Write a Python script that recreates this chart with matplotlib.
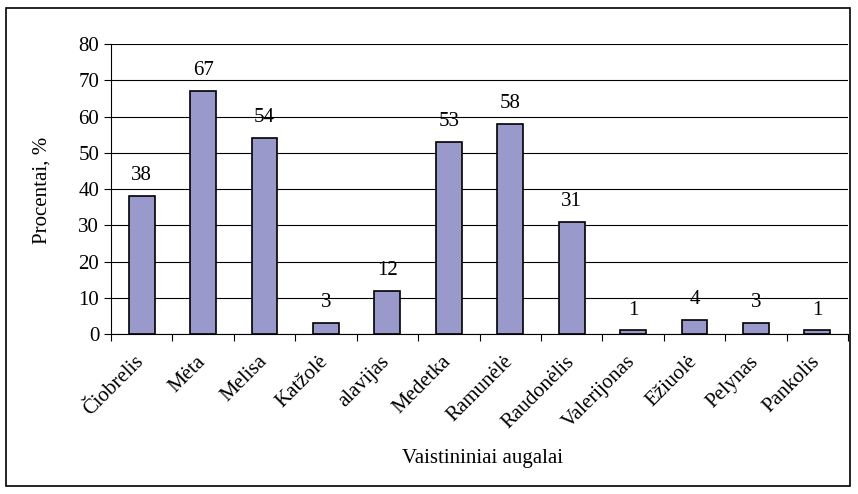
import matplotlib
matplotlib.use("Agg")
import matplotlib.pyplot as plt
import matplotlib.transforms as mtransforms
import numpy as np
from matplotlib.patches import Rectangle

plants = ["Čiobrelis", "Mėta", "Melisa", "Katžolė", "alavijas", "Medetka",
          "Ramunėlė", "Raudonėlis", "Valerijonas", "Ežiuolė", "Pelynas", "Pankolis"]
percent = [38, 67, 54, 3, 12, 53, 58, 31, 1, 4, 3, 1]
y_ticks = [0, 10, 20, 30, 40, 50, 60, 70, 80]

plt.rcParams["font.family"] = ["Liberation Serif", "DejaVu Serif"]
FS = 15

fig = plt.figure(figsize=(8.58, 4.94), dpi=100)
ax = fig.add_axes([111 / 858, 1 - 334 / 494, (848 - 111) / 858, (334 - 44) / 494])

x = np.arange(len(plants))
ax.bar(x, percent, width=0.42, color="#9999cc", edgecolor="black", linewidth=1.2, zorder=3)
for xi, v in zip(x, percent):
    ax.text(xi, v + 3, str(v), ha="center", va="bottom", fontsize=FS)

ax.set_xlim(-0.5, len(plants) - 0.5)
ax.set_ylim(0, 80)
ax.set_yticks(y_ticks)
ax.yaxis.grid(True, color="black", linewidth=0.8, zorder=0)
ax.tick_params(axis="y", labelsize=FS, direction="out", length=5)

ax.set_xticks(np.arange(-0.5, len(plants), 1.0))
ax.set_xticklabels([])
ax.set_xticks(x, minor=True)
ax.set_xticklabels(plants, minor=True, rotation=45, ha="right", rotation_mode="anchor",
                   fontsize=FS)
ax.tick_params(axis="x", which="major", direction="out", length=5)
ax.tick_params(axis="x", which="minor", length=0, pad=13)
shift = mtransforms.ScaledTranslation(-7 / 100, 0, fig.dpi_scale_trans)
for lab in ax.get_xticklabels(minor=True):
    lab.set_transform(lab.get_transform() + shift)

for s in ["top", "right"]:
    ax.spines[s].set_visible(False)

fig.text(42 / 858, 1 - 190 / 494, "Procentai, %", rotation=90, ha="center", va="center", fontsize=FS)
fig.text(483 / 858, 1 - 458 / 494, "Vaistininiai augalai", ha="center", va="center", fontsize=FS)

fig.patches.append(Rectangle((6 / 858, 8 / 494), 844 / 858, 478 / 494, transform=fig.transFigure,
                             fill=False, edgecolor="black", linewidth=1.2))

fig.savefig("out.png", dpi=100)
